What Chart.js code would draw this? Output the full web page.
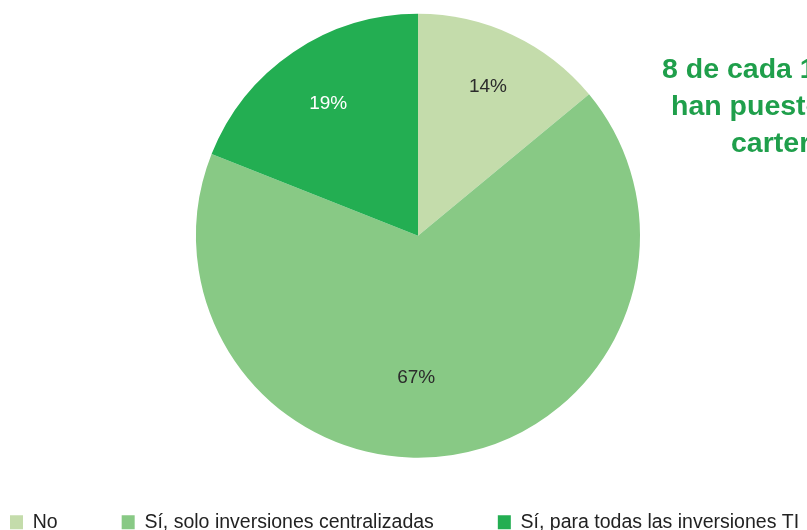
<!DOCTYPE html>
<html>
<head>
<meta charset="utf-8">
<script src="https://cdn.jsdelivr.net/npm/chart.js@4"></script>
<style>
  html, body { margin: 0; padding: 0; background: #fff; overflow: hidden; width: 807px; height: 530px; }
  #chart { position: absolute; top: 0; }
</style>
</head>
<body>
<canvas id="chart" width="944" height="542"></canvas>
<script>
// Data
const categories = ['No', 'Sí, solo inversiones centralizadas', 'Sí, para todas las inversiones TI'];
const shares = [14, 67, 19];
const sliceColors = ['#c4dcab', '#88c985', '#23ae52'];
const labelColors = ['#2b2b2b', '#2b2b2b', '#ffffff'];
const headline = ['8 de cada 10 empresas', 'han puesto en marcha una', 'cartera de inversiones TI'];

// Layout helpers
const LEGEND_GAP = 64;
const CANVAS_LEFT = 10 - LEGEND_GAP; // page x of the canvas' left edge
const canvas = document.getElementById('chart');
canvas.style.left = CANVAS_LEFT + 'px';

// Percent labels inside the slices
const sliceLabels = {
  id: 'sliceLabels',
  afterDatasetsDraw(chart, args, opts) {
    const { ctx } = chart;
    const meta = chart.getDatasetMeta(0);
    ctx.save();
    ctx.font = '19px "Liberation Sans", Arial, sans-serif';
    ctx.textAlign = 'center';
    ctx.textBaseline = 'middle';
    meta.data.forEach((arc, i) => {
      const { x, y, startAngle, endAngle, outerRadius } = arc.getProps(['x', 'y', 'startAngle', 'endAngle', 'outerRadius'], true);
      const a = (startAngle + endAngle) / 2 + opts.shift[i];
      const r = outerRadius * opts.radius[i];
      ctx.fillStyle = labelColors[i];
      ctx.fillText(shares[i] + '%', x + Math.cos(a) * r, y + Math.sin(a) * r);
    });
    ctx.restore();
  }
};

// Green headline to the right of the pie
const headlineText = {
  id: 'headlineText',
  afterDraw(chart, args, opts) {
    const { ctx } = chart;
    ctx.save();
    ctx.font = 'bold 28.5px "Liberation Sans", Arial, sans-serif';
    ctx.fillStyle = '#1f9f4b';
    ctx.textAlign = 'left';
    ctx.textBaseline = 'alphabetic';
    headline.forEach((line, i) => {
      ctx.fillText(line, opts.x[i] - CANVAS_LEFT, opts.y[i]);
    });
    ctx.restore();
  }
};

new Chart(canvas, {
  type: 'pie',
  data: {
    labels: categories,
    datasets: [{
      data: shares,
      backgroundColor: sliceColors,
      borderWidth: 0,
      radius: 222
    }]
  },
  options: {
    responsive: false,
    animation: false,
    devicePixelRatio: 1,
    layout: { padding: { top: 23, left: 0, right: 0, bottom: 0 } },
    plugins: {
      tooltip: { enabled: false },
      legend: {
        position: 'bottom',
        align: 'start',
        labels: {
          boxWidth: 13,
          boxHeight: 14,
          padding: LEGEND_GAP,
          color: '#222',
          font: { family: '"Liberation Sans", Arial, sans-serif', size: 19.5 }
        }
      },
      sliceLabels: {
        radius: [0.74, 0.64, 0.72],
        shift: [0, 0.17, 0]
      },
      headlineText: {
        x: [662, 671, 731],
        y: [78, 115, 152]
      }
    }
  },
  plugins: [sliceLabels, headlineText]
});
</script>
</body>
</html>
